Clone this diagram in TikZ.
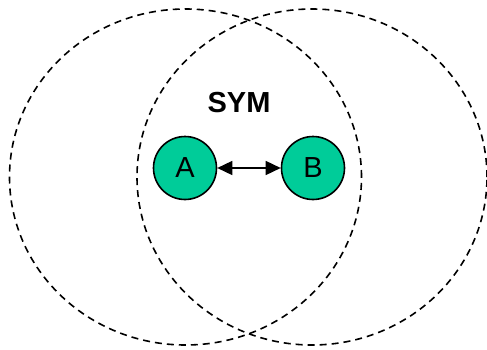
\documentclass[tikz,border=0pt]{standalone}
\usepackage{fontspec}
\setmainfont{Liberation Sans}
\usetikzlibrary{arrows.meta}
\definecolor{nodegreen}{HTML}{00CC99}

\begin{document}
\begin{tikzpicture}[x=1pt,y=1pt,
  reachzone/.style={dash pattern=on 7pt off 5pt,line width=1.6pt},
  agent/.style={circle,draw,line width=1.6pt,fill=nodegreen,minimum size=63pt,inner sep=0pt,font=\fontsize{29}{29}\selectfont}]
\useasboundingbox (0,0) rectangle (487,349);
\coordinate (L) at (185.5,172);
\coordinate (R) at (312,172);
\draw[reachzone] (L) ellipse (176 and 168);
\draw[reachzone] (R) ellipse (175 and 168);
\node[agent] (A) at (185,181) {A};
\node[agent] (B) at (313,181) {B};
\node[font=\fontsize{29}{29}\selectfont\bfseries] (sym) at (239,246) {SYM};
\draw[{Triangle[length=15pt,width=14pt]}-{Triangle[length=15pt,width=14pt]},line width=1.5pt] (A) -- (B);
\end{tikzpicture}
\end{document}
